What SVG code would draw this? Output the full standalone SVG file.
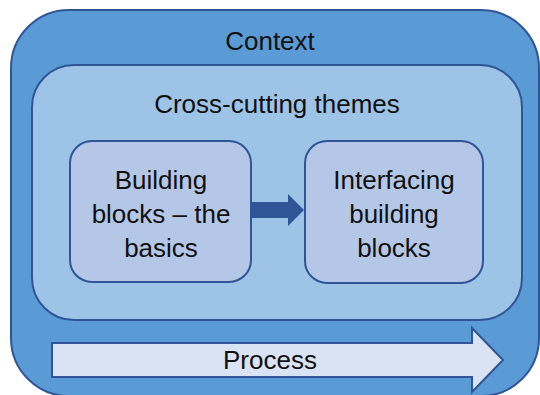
<svg xmlns="http://www.w3.org/2000/svg" width="540" height="395" viewBox="0 0 540 395">
<style>
.t{font-family:"Liberation Sans","Open Sans",Arial,sans-serif;font-size:26px;fill:#111;text-anchor:middle}
.box{stroke:#2F5597;stroke-width:2}
</style>
<rect width="540" height="395" fill="#fff"/>
<g id="context">
<rect class="box" x="11" y="10" width="528" height="386" rx="58" fill="#5B9BD5"/>
<text class="t" x="270" y="50">Context</text>
</g>
<g id="cross-cutting">
<rect class="box" x="32" y="65" width="490" height="255" rx="42" fill="#9DC3E6"/>
<text class="t" x="277" y="113">Cross-cutting themes</text>
</g>
<g id="building-blocks">
<rect class="box" x="70" y="141" width="181" height="141" rx="22" fill="#B4C7E7"/>
<text class="t" x="161" y="189">Building</text>
<text class="t" x="161" y="223">blocks – the</text>
<text class="t" x="161" y="257">basics</text>
</g>
<g id="interfacing">
<rect class="box" x="305" y="141" width="178" height="142" rx="22" fill="#B4C7E7"/>
<text class="t" x="394" y="189">Interfacing</text>
<text class="t" x="394" y="223">building</text>
<text class="t" x="394" y="257">blocks</text>
</g>
<g id="process">
<path class="box" d="M52 343 H472 V328 L503 360 L472 392 V377 H52 Z" fill="#DAE3F3"/>
<text class="t" x="270" y="369">Process</text>
</g>
<g id="connectors">
<path d="M251 202 H288 V194 L304 210 L288 226 V218 H251 Z" fill="#2F5597"/>
</g>
</svg>
